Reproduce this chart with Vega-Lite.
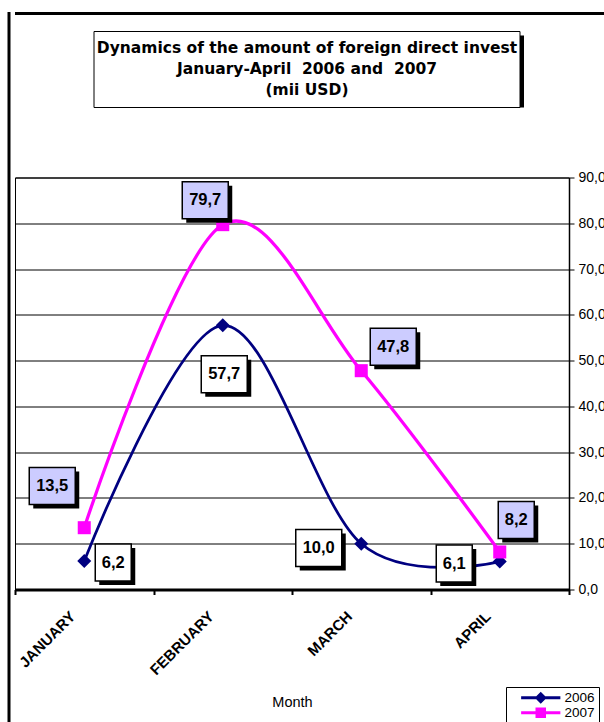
{
  "$schema": "https://vega.github.io/schema/vega-lite/v6.json",
  "padding": {"left": 7.5, "top": 12, "right": 0, "bottom": 0},
  "background": "white",
  "config": {"view": {"stroke": null}, "font": "Liberation Sans"},
  "datasets": {
    "inv": [
      {"month": "JANUARY", "year": "2006", "value": 6.2},
      {"month": "FEBRUARY", "year": "2006", "value": 57.7},
      {"month": "MARCH", "year": "2006", "value": 10.0},
      {"month": "APRIL", "year": "2006", "value": 6.1},
      {"month": "JANUARY", "year": "2007", "value": 13.5},
      {"month": "FEBRUARY", "year": "2007", "value": 79.7},
      {"month": "MARCH", "year": "2007", "value": 47.8},
      {"month": "APRIL", "year": "2007", "value": 8.2}
    ]
  },
  "spacing": -1.5,
  "hconcat": [
    {
      "width": 3, "height": 715,
      "view": {"fill": "black", "stroke": null},
      "data": {"values": []},
      "mark": "point"
    },
    {
      "spacing": 15.5,
      "vconcat": [
        {
          "width": 600, "height": 3,
          "view": {"fill": "black", "stroke": null},
          "data": {"values": []},
          "mark": "point"
        },
        {
          "spacing": 61,
          "vconcat": [
            {
              "spacing": 0,
              "hconcat": [
                {
                  "width": 78, "height": 10,
                  "data": {"values": []},
                  "mark": "point"
                },
                {
                  "width": 426, "height": 76,
                  "data": {"values": [{}]},
                  "layer": [
                    {"mark": {"type": "rect", "fill": "black", "xOffset": 4, "x2Offset": 4, "yOffset": 4, "y2Offset": 4}},
                    {"mark": {"type": "rect", "fill": "white", "stroke": "black", "strokeWidth": 1}},
                    {"mark": {"type": "text", "font": "DejaVu Sans", "fontWeight": "bold", "fontSize": 15.5, "lineHeight": 21, "align": "center", "baseline": "middle", "dy": -22, "color": "black",
                      "text": ["Dynamics of the amount of foreign direct invest", "January-April\u00a0 2006 and\u00a0 2007", "(mii USD)"]}}
                  ]
                }
              ]
            },
            {
              "width": 554, "height": 412,
              "view": {"stroke": "black", "strokeWidth": 1},
              "data": {"name": "inv"},
              "encoding": {
                "x": {
                  "field": "month", "type": "nominal",
                  "sort": ["JANUARY", "FEBRUARY", "MARCH", "APRIL"],
                  "scale": {"paddingInner": 0, "paddingOuter": 0},
                  "title": "Month",
                  "axis": {
                    "labelAngle": -45, "labelAlign": "right", "labelBaseline": "middle",
                    "labelFont": "Liberation Sans", "labelFontWeight": "bold", "labelFontSize": 15,
                    "labelPadding": 19, "labelOffset": -12, "labelColor": "black",
                    "domainColor": "black", "domainWidth": 3,
                    "tickColor": "black", "tickWidth": 2, "tickSize": 5, "tickBand": "extent",
                    "grid": false,
                    "titleFont": "Liberation Sans", "titleFontWeight": "normal", "titleFontSize": 14.5,
                    "titlePadding": 18, "titleColor": "black"
                  }
                },
                "y": {
                  "field": "value", "type": "quantitative",
                  "scale": {"domain": [0, 90], "nice": false},
                  "axis": {
                    "orient": "right", "values": [0, 10, 20, 30, 40, 50, 60, 70, 80, 90],
                    "grid": true, "gridColor": "black", "gridWidth": 1, "gridOpacity": 1,
                    "domainColor": "black", "domainWidth": 1.5,
                    "tickColor": "black", "tickSize": 5, "tickWidth": 1,
                    "labelFont": "Liberation Sans", "labelFontSize": 14, "labelPadding": 4,
                    "labelColor": "black", "labelFlush": false, "labelOverlap": false,
                    "labelExpr": "replace(format(datum.value, '.1f'), '.', ',')",
                    "title": null
                  }
                }
              },
              "layer": [
                {
                  "mark": {"type": "line", "interpolate": "cardinal", "strokeWidth": {"expr": "datum.year == '2006' ? 2.75 : 3.25"}},
                  "encoding": {
                    "color": {
                      "field": "year", "type": "nominal",
                      "scale": {"domain": ["2006", "2007"], "range": ["#000080", "#FF00FF"]},
                      "legend": {
                        "orient": "none", "legendX": 498.5, "legendY": 675, "title": null,
                        "strokeColor": "black", "fillColor": "white", "padding": 4,
                        "symbolSize": 144, "symbolStrokeWidth": 0, "symbolOffset": 24,
                        "labelFont": "Liberation Sans", "labelFontSize": 13.5, "labelColor": "black", "labelOffset": 17,
                        "rowPadding": 0,
                        "labelExpr": "datum.label + '\u00a0\u00a0\u00a0\u00a0\u00a0'",
                        "encode": {
                          "symbols": {
                            "update": {
                              "shape": {"signal": "datum.value == '2006' ? 'M-3.27,-0.23H3.27V0.23H-3.27Z M0,-1L1,0L0,1L-1,0Z' : 'M-3.27,-0.23H3.27V0.23H-3.27Z M-0.875,-0.875H0.875V0.875H-0.875Z'"},
                              "fill": {"signal": "datum.value == '2006' ? '#000080' : '#FF00FF'"},
                              "stroke": {"value": null},
                              "strokeWidth": {"value": 0},
                              "opacity": {"value": 1}
                            }
                          }
                        }
                      }
                    }
                  }
                },
                {
                  "mark": {"type": "point", "filled": true, "opacity": 1,
                    "size": {"expr": "datum.year == '2006' ? 196 : 170"},
                    "shape": {"expr": "datum.year == '2006' ? 'diamond' : 'square'"}},
                  "encoding": {
                    "color": {
                      "field": "year", "type": "nominal",
                      "scale": {"domain": ["2006", "2007"], "range": ["#000080", "#FF00FF"]},
                      "legend": {
                        "orient": "none", "legendX": 498.5, "legendY": 675, "title": null,
                        "strokeColor": "black", "fillColor": "white", "padding": 4,
                        "symbolSize": 144, "symbolStrokeWidth": 0, "symbolOffset": 24,
                        "labelFont": "Liberation Sans", "labelFontSize": 13.5, "labelColor": "black", "labelOffset": 17,
                        "rowPadding": 0,
                        "labelExpr": "datum.label + '\u00a0\u00a0\u00a0\u00a0\u00a0'",
                        "encode": {
                          "symbols": {
                            "update": {
                              "shape": {"signal": "datum.value == '2006' ? 'M-3.27,-0.23H3.27V0.23H-3.27Z M0,-1L1,0L0,1L-1,0Z' : 'M-3.27,-0.23H3.27V0.23H-3.27Z M-0.875,-0.875H0.875V0.875H-0.875Z'"},
                              "fill": {"signal": "datum.value == '2006' ? '#000080' : '#FF00FF'"},
                              "stroke": {"value": null},
                              "strokeWidth": {"value": 0},
                              "opacity": {"value": 1}
                            }
                          }
                        }
                      }
                    }
                  }
                },
                {
                  "mark": {"type": "point", "filled": true, "fill": "black", "opacity": 1, "size": 4, "strokeWidth": 0,
                    "shape": {"expr": "datum.value >= 10 ? 'M-19,-14.5H27V22.5H-19Z' : 'M-14,-14.5H22V22.5H-14Z'"},
                    "xOffset": {"expr": "datum.year == '2006' ? (datum.month == 'JANUARY' ? 29 : datum.month == 'FEBRUARY' ? 1.5 : datum.month == 'MARCH' ? -42.5 : -45.5) : (datum.month == 'JANUARY' ? -32 : datum.month == 'FEBRUARY' ? -17.5 : datum.month == 'MARCH' ? 32 : 16.5)"},
                    "yOffset": {"expr": "datum.year == '2006' ? (datum.month == 'JANUARY' ? 1.5 : datum.month == 'FEBRUARY' ? 49 : datum.month == 'MARCH' ? 4.3 : 2) : (datum.month == 'JANUARY' ? -41.7 : datum.month == 'FEBRUARY' ? -24.4 : datum.month == 'MARCH' ? -24 : -32)"}
                  }
                },
                {
                  "mark": {"type": "point", "filled": true, "opacity": 1, "size": 4,
                    "fill": {"expr": "datum.year == '2006' ? 'white' : '#CCCCFF'"},
                    "stroke": "black", "strokeWidth": 1.5,
                    "shape": {"expr": "datum.value >= 10 ? 'M-23,-18.5H23V18.5H-23Z' : 'M-18,-18.5H18V18.5H-18Z'"},
                    "xOffset": {"expr": "datum.year == '2006' ? (datum.month == 'JANUARY' ? 29 : datum.month == 'FEBRUARY' ? 1.5 : datum.month == 'MARCH' ? -42.5 : -45.5) : (datum.month == 'JANUARY' ? -32 : datum.month == 'FEBRUARY' ? -17.5 : datum.month == 'MARCH' ? 32 : 16.5)"},
                    "yOffset": {"expr": "datum.year == '2006' ? (datum.month == 'JANUARY' ? 1.5 : datum.month == 'FEBRUARY' ? 49 : datum.month == 'MARCH' ? 4.3 : 2) : (datum.month == 'JANUARY' ? -41.7 : datum.month == 'FEBRUARY' ? -24.4 : datum.month == 'MARCH' ? -24 : -32)"}
                  }
                },
                {
                  "mark": {"type": "text", "font": "Liberation Sans", "fontWeight": "bold", "fontSize": 16.5,
                    "align": "center", "baseline": "middle", "color": "black",
                    "text": {"expr": "replace(format(datum.value, '.1f'), '.', ',')"},
                    "xOffset": {"expr": "datum.year == '2006' ? (datum.month == 'JANUARY' ? 29 : datum.month == 'FEBRUARY' ? 1.5 : datum.month == 'MARCH' ? -42.5 : -45.5) : (datum.month == 'JANUARY' ? -32 : datum.month == 'FEBRUARY' ? -17.5 : datum.month == 'MARCH' ? 32 : 16.5)"},
                    "yOffset": {"expr": "datum.year == '2006' ? (datum.month == 'JANUARY' ? 1.5 : datum.month == 'FEBRUARY' ? 49 : datum.month == 'MARCH' ? 4.3 : 2) : (datum.month == 'JANUARY' ? -41.7 : datum.month == 'FEBRUARY' ? -24.4 : datum.month == 'MARCH' ? -24 : -32)"}
                  }
                }
              ]
            }
          ]
        }
      ]
    }
  ]
}
